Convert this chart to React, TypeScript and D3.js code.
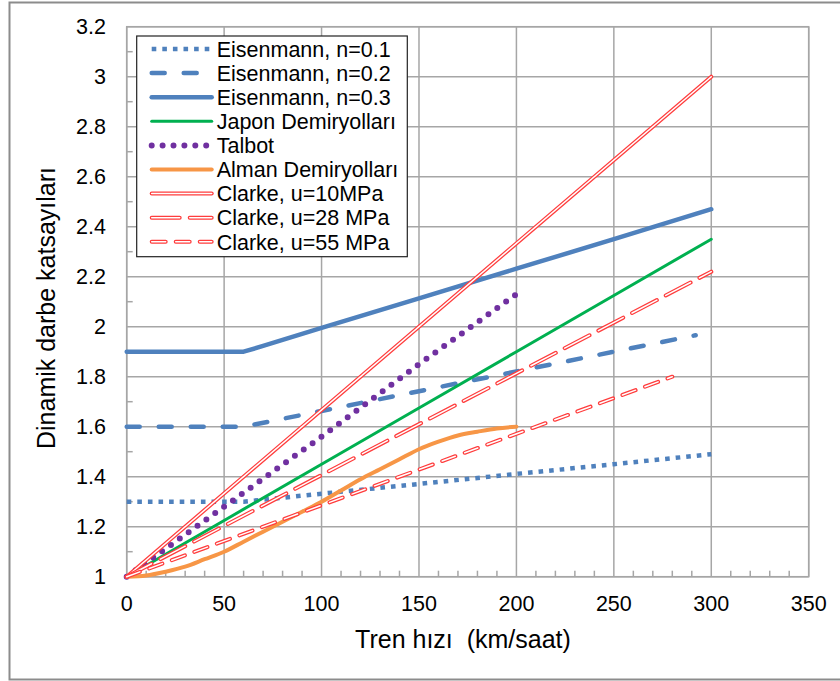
import React, { useRef, useEffect } from 'react';
import * as d3 from 'd3';

// speeds (km/saat) and values
const eisN01Speeds = [0, 60, 100, 150, 200, 250, 300];
const eisN01 = [1.3, 1.3, 1.332, 1.371, 1.411, 1.45, 1.49];
const eisN02Speeds = [0, 60, 100, 150, 200, 250, 292];
const eisN02 = [1.6, 1.6, 1.663, 1.742, 1.821, 1.9, 1.966];
const eisN03Speeds = [0, 60, 70, 100, 150, 200, 250, 300];
const eisN03 = [1.9, 1.9, 1.923, 1.995, 2.113, 2.232, 2.35, 2.47];

const japonSpeeds = [0, 50, 100, 150, 200, 250, 300];
const japon = [1, 1.225, 1.45, 1.675, 1.90, 2.125, 2.35];

const talbotSpeeds = [0, 50, 100, 150, 200];
const talbot = [1, 1.28, 1.56, 1.85, 2.13];

const almanSpeeds = [0, 10, 20, 30, 40, 50, 60, 70, 80, 90, 100, 110, 120, 130, 140, 150, 160, 170, 180, 190, 200];
const alman = [1.0, 1.005, 1.02, 1.04, 1.07, 1.10, 1.14, 1.18, 1.22, 1.26, 1.30, 1.345, 1.39, 1.43, 1.47, 1.51, 1.54, 1.565, 1.58, 1.593, 1.60];

const clarke10Speeds = [0, 300];
const clarke10 = [1, 3.0];
const clarke28Speeds = [0, 300];
const clarke28 = [1, 2.22];
const clarke55Speeds = [0, 280];
const clarke55 = [1, 1.80];

const xTicks = [0, 50, 100, 150, 200, 250, 300, 350];
const yTicks = [1, 1.2, 1.4, 1.6, 1.8, 2, 2.2, 2.4, 2.6, 2.8, 3, 3.2];

const seriesNames = [
  "Eisenmann, n=0.1",
  "Eisenmann, n=0.2",
  "Eisenmann, n=0.3",
  "Japon Demiryolları",
  "Talbot",
  "Alman Demiryolları",
  "Clarke, u=10MPa",
  "Clarke, u=28 MPa",
  "Clarke, u=55 MPa",
];

const blue = "#4f81bd";
const red = "#ff3d3d";

export default function App() {
  const ref = useRef<SVGSVGElement>(null);

  useEffect(() => {
    const svg = d3.select(ref.current);
    svg.selectAll("*").remove();

    const width = 840;
    const height = 681;
    const margin = { top: 26.7, right: 31.3, bottom: 104.3, left: 126.7 };

    const x = d3.scaleLinear().domain([0, 350]).range([margin.left, width - margin.right]);
    const y = d3.scaleLinear().domain([1, 3.2]).range([height - margin.bottom, margin.top]);

    // outer frame
    svg.append("rect")
      .attr("x", 9.5).attr("y", 2.5)
      .attr("width", 840).attr("height", 677)
      .attr("fill", "white")
      .attr("stroke", "#8c8c8c")
      .attr("stroke-width", 2);

    const g = svg.append("g");

    // gridlines
    g.selectAll("line.hgrid")
      .data(yTicks)
      .enter()
      .append("line")
      .attr("x1", x(0)).attr("x2", x(350))
      .attr("y1", d => y(d)).attr("y2", d => y(d))
      .attr("stroke", "#a6a6a6")
      .attr("stroke-width", 1.5);

    g.selectAll("line.vgrid")
      .data(xTicks)
      .enter()
      .append("line")
      .attr("x1", d => x(d)).attr("x2", d => x(d))
      .attr("y1", y(1)).attr("y2", y(3.2))
      .attr("stroke", "#a6a6a6")
      .attr("stroke-width", 1.5);

    // minor ticks
    const xMinor = d3.range(0, 351, 10).filter(v => v % 50 !== 0);
    g.selectAll("line.xminor")
      .data(xMinor)
      .enter()
      .append("line")
      .attr("x1", d => x(d)).attr("x2", d => x(d))
      .attr("y1", y(1)).attr("y2", y(1) - 6)
      .attr("stroke", "#a6a6a6")
      .attr("stroke-width", 1.5);

    const yMinor = d3.range(1.1, 3.2, 0.2);
    g.selectAll("line.yminor")
      .data(yMinor)
      .enter()
      .append("line")
      .attr("x1", x(0)).attr("x2", x(0) + 6)
      .attr("y1", d => y(d)).attr("y2", d => y(d))
      .attr("stroke", "#a6a6a6")
      .attr("stroke-width", 1.5);

    // plot border
    g.append("rect")
      .attr("x", x(0)).attr("y", y(3.2))
      .attr("width", x(350) - x(0)).attr("height", y(1) - y(3.2))
      .attr("fill", "none")
      .attr("stroke", "#a6a6a6")
      .attr("stroke-width", 1.5);

    // tick labels
    g.selectAll("text.xt")
      .data(xTicks)
      .enter()
      .append("text")
      .attr("x", d => x(d))
      .attr("y", 611)
      .attr("text-anchor", "middle")
      .attr("font-family", "Liberation Sans, Arial, sans-serif")
      .attr("font-size", 21.5)
      .text(d => d);

    g.selectAll("text.yt")
      .data(yTicks)
      .enter()
      .append("text")
      .attr("x", 106)
      .attr("y", d => y(d))
      .attr("dy", "0.36em")
      .attr("text-anchor", "end")
      .attr("font-family", "Liberation Sans, Arial, sans-serif")
      .attr("font-size", 21.5)
      .text(d => d3.format("~g")(d));

    // axis titles
    svg.append("text")
      .attr("x", 463).attr("y", 648)
      .attr("text-anchor", "middle")
      .attr("font-family", "Liberation Sans, Arial, sans-serif")
      .attr("font-size", 25)
      .style("white-space", "pre")
      .text("Tren hızı  (km/saat)");

    svg.append("text")
      .attr("transform", "translate(55,308) rotate(-90)")
      .attr("text-anchor", "middle")
      .attr("font-family", "Liberation Sans, Arial, sans-serif")
      .attr("font-size", 25)
      .text("Dinamik darbe katsayıları");

    // series styles
    type Style = { color: string; width: number; dash?: string; cap?: string; double?: boolean; smooth?: boolean };
    const styles: Style[] = [
      { color: blue, width: 4.5, dash: "4.6,6", cap: "butt" },
      { color: blue, width: 4.5, dash: "13,19", cap: "round" },
      { color: blue, width: 4.5 },
      { color: "#00b050", width: 3 },
      { color: "#7030a0", width: 6, dash: "0,10.9", cap: "round" },
      { color: "#f79646", width: 4, smooth: true },
      { color: red, width: 4, double: true },
      { color: red, width: 4, dash: "28,10", double: true },
      { color: red, width: 4, dash: "14,10", double: true },
    ];

    const seriesData: [number[], number[]][] = [
      [eisN01Speeds, eisN01],
      [eisN02Speeds, eisN02],
      [eisN03Speeds, eisN03],
      [japonSpeeds, japon],
      [talbotSpeeds, talbot],
      [almanSpeeds, alman],
      [clarke10Speeds, clarke10],
      [clarke28Speeds, clarke28],
      [clarke55Speeds, clarke55],
    ];

    const drawStroke = (sel: any, pathD: string, s: Style) => {
      sel.append("path")
        .attr("d", pathD)
        .attr("fill", "none")
        .attr("stroke", s.color)
        .attr("stroke-width", s.width)
        .attr("stroke-dasharray", s.dash || null)
        .attr("stroke-linecap", s.cap || "round")
        .attr("stroke-linejoin", "round");
      if (s.double) {
        sel.append("path")
          .attr("d", pathD)
          .attr("fill", "none")
          .attr("stroke", "white")
          .attr("stroke-width", 1.5)
          .attr("stroke-dasharray", s.dash || null)
          .attr("stroke-linecap", "round")
          .attr("stroke-linejoin", "round");
      }
    };

    const lines = svg.append("g");
    seriesData.forEach(([xs, ys], i) => {
      const pts = xs.map((v, k) => [v, ys[k]] as [number, number]);
      const line = d3.line<[number, number]>()
        .x(d => x(d[0]))
        .y(d => y(d[1]))
        .curve(styles[i].smooth ? d3.curveMonotoneX : d3.curveLinear);
      drawStroke(lines, line(pts) as string, styles[i]);
    });

    // legend
    const legend = svg.append("g").attr("transform", "translate(136.7,36)");
    legend.append("rect")
      .attr("x", 0).attr("y", 0)
      .attr("width", 270.6).attr("height", 220.7)
      .attr("fill", "white")
      .attr("stroke", "#222")
      .attr("stroke-width", 1.2);

    seriesNames.forEach((name, i) => {
      const cy = 13 + i * 24.1;
      drawStroke(legend, `M15,${cy}L75,${cy}`, styles[i]);
      legend.append("text")
        .attr("x", 80)
        .attr("y", cy)
        .attr("dy", "0.36em")
        .attr("font-family", "Liberation Sans, Arial, sans-serif")
        .attr("font-size", 21.5)
        .text(name);
    });
  }, []);

  return (
    <svg
      ref={ref}
      width={840}
      height={681}
      style={{ position: "absolute", left: 0, top: 0 }}
    ></svg>
  );
}
